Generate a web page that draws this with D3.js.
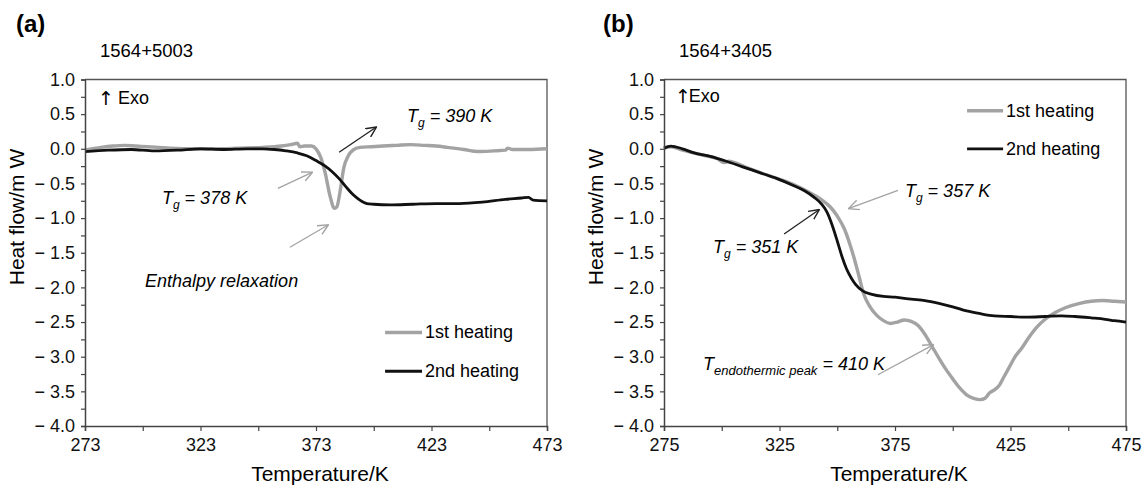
<!DOCTYPE html>
<html>
<head>
<meta charset="utf-8">
<script src="https://cdn.jsdelivr.net/npm/d3@7"></script>
<style>
  body { margin: 0; background: #fff; }
  svg { font-family: "Liberation Sans", Arial, sans-serif; }
</style>
</head>
<body>
<svg width="1146" height="486"></svg>
<script>
// panel (a) 1564+5003, [temperature K, heat flow mW]
var firstHeatingA = [
    [273, -0.02], [280, 0.02], [285, 0.04], [290, 0.05], [295, 0.04], [300, 0.03], [305, 0.02],
    [310, 0.01], [320, 0.0], [330, 0.0], [340, 0.01], [350, 0.02], [358, 0.04], [362, 0.06],
    [365, 0.08], [366, 0.03], [368, 0.04], [371, 0.04], [373, 0.0], [375, -0.12], [377, -0.35],
    [379, -0.67], [381, -0.86], [382, -0.84], [383.5, -0.6], [385, -0.28], [387, -0.1], [389, -0.02],
    [392, 0.02], [397, 0.03], [402, 0.04], [408, 0.05], [414, 0.06], [420, 0.05], [425, 0.04],
    [430, 0.02], [437, -0.01], [443, -0.04], [450, -0.03], [455, -0.02], [456, 0.01], [458, -0.01],
    [465, -0.01], [473, 0.0]
];
var secondHeatingA = [
    [273, -0.04], [283, -0.02], [293, -0.01], [303, -0.03], [313, -0.02], [323, 0.0], [333, -0.01],
    [343, 0.0], [350, 0.0], [355, -0.01], [360, -0.03], [365, -0.06], [369, -0.1], [373, -0.17],
    [377, -0.25], [380, -0.33], [383, -0.43], [386, -0.55], [389, -0.66], [392, -0.74], [395, -0.79],
    [398, -0.8], [405, -0.81], [415, -0.8], [425, -0.79], [435, -0.79], [445, -0.77], [455, -0.73],
    [462, -0.71], [465, -0.7], [467, -0.74], [473, -0.75]
];
// panel (b) 1564+3405
var firstHeatingB = [
    [275, 0.01], [278, 0.03], [283, -0.02], [288, -0.06], [293, -0.1], [298, -0.14], [301, -0.2],
    [303, -0.18], [310, -0.26], [318, -0.36], [325, -0.44], [332, -0.53], [338, -0.63], [343, -0.73],
    [347, -0.84], [350, -0.97], [353, -1.15], [355.5, -1.38], [357.5, -1.6], [359.5, -1.85],
    [361.5, -2.1], [364, -2.27], [367, -2.4], [370, -2.48], [373, -2.52], [376, -2.5], [379, -2.47],
    [382, -2.49], [385, -2.55], [388, -2.68], [391, -2.85], [394, -3.02], [397, -3.18], [400, -3.32],
    [403, -3.45], [406, -3.55], [409, -3.6], [412, -3.62], [414, -3.6], [416, -3.52], [418, -3.48],
    [420, -3.42], [422, -3.3], [424.5, -3.15], [427, -3.0], [430, -2.87], [433, -2.72], [436.5, -2.57],
    [440, -2.46], [444, -2.37], [449, -2.29], [455, -2.23], [460, -2.2], [465, -2.19], [470, -2.2],
    [475, -2.21]
];
var secondHeatingB = [
    [275, 0.01], [278, 0.04], [283, 0.0], [288, -0.06], [295, -0.11], [302, -0.18], [309, -0.26],
    [317, -0.35], [324, -0.43], [331, -0.53], [336, -0.61], [340, -0.7], [343, -0.79], [345.5, -0.91],
    [348, -1.12], [350, -1.33], [352, -1.55], [354, -1.73], [356, -1.86], [358, -1.96], [361, -2.05],
    [365, -2.1], [370, -2.13], [375, -2.14], [382, -2.17], [388, -2.19], [394, -2.23], [400, -2.28],
    [406, -2.34], [412, -2.38], [418, -2.41], [425, -2.42], [432, -2.43], [440, -2.42], [447, -2.41],
    [453, -2.42], [460, -2.44], [466, -2.46], [470, -2.48], [475, -2.5]
];

var yTicks = [1.0, 0.75, 0.5, 0.25, 0.0, -0.25, -0.5, -0.75, -1.0, -1.25, -1.5, -1.75, -2.0, -2.25,
    -2.5, -2.75, -3.0, -3.25, -3.5, -3.75, -4.0];
var xTicksA = [273, 298, 323, 348, 373, 398, 423, 448, 473];
var xTicksB = [275, 300, 325, 350, 375, 400, 425, 450, 475];

var svg = d3.select('svg');

var defs = svg.append("defs");
[['arrGray', '#a3a3a3'], ['arrBlack', '#222']].forEach(m => {
    defs.append("marker")
        .attr("id", m[0])
        .attr("viewBox", "0 0 10 10")
        .attr("refX", 9).attr("refY", 5)
        .attr("markerWidth", 11).attr("markerHeight", 11)
        .attr("markerUnits", "userSpaceOnUse")
        .attr("orient", "auto")
        .append("path")
        .attr("d", "M0,0.5 L9.5,5 L0,9.5")
        .attr("fill", "none")
        .attr("stroke", m[1])
        .attr("stroke-width", 1.3);
});

function fmtY(d) {
    if (Math.abs(d * 2 - Math.round(d * 2)) > 1e-6) return "";
    return d < 0 ? "\u2212 " + (-d).toFixed(1) : d.toFixed(1);
}

function drawPanel(p) {
    var x = d3.scaleLinear().domain(p.xDomain).range([p.left, p.right]);
    var y = d3.scaleLinear().domain([-4, 1]).range([426, 79.5]);
    var g = svg.append("g");

    // frame top + right
    g.append("path")
        .attr("d", `M${p.left},${y(1)}H${p.right}V${y(-4)}`)
        .attr("fill", "none").attr("stroke", "#555").attr("stroke-width", 1.3);

    var line = d3.line().x(d => x(d[0])).y(d => y(d[1])).curve(d3.curveMonotoneX);
    g.append("path").datum(p.first)
        .attr("d", line).attr("fill", "none")
        .attr("stroke", "#a3a3a3").attr("stroke-width", 3.4).attr("stroke-linejoin", "round");
    g.append("path").datum(p.second)
        .attr("d", line).attr("fill", "none")
        .attr("stroke", "#111").attr("stroke-width", 2.8).attr("stroke-linejoin", "round");

    // Add the Y Axis
    var yAxis = d3.axisLeft(y).tickValues(yTicks).tickSize(4).tickPadding(6).tickFormat(fmtY);
    var ya = g.append("g").attr("transform", `translate(${p.left},0)`).call(yAxis);
    // Add the X Axis
    var xAxis = d3.axisBottom(x).tickValues(p.xTicks).tickSize(5).tickPadding(7)
        .tickFormat((d, i) => i % 2 ? "" : d);
    var xa = g.append("g").attr("transform", `translate(0,${y(-4)})`).call(xAxis);
    [ya, xa].forEach(a => {
        a.select(".domain").attr("stroke", "#444").attr("stroke-width", 1.5);
        a.selectAll(".tick line").attr("stroke", "#444").attr("stroke-width", 1.2);
        a.selectAll(".tick text").attr("fill", "#111")
            .style("font-family", "'Liberation Sans', Arial, sans-serif");
    });
    ya.selectAll(".tick text").style("font-size", "18px");
    xa.selectAll(".tick text").style("font-size", "18px");

    svg.append("text").attr("x", p.tagX).attr("y", 32)
        .style("font-size", "24px").style("font-weight", "bold").text(p.tag);
    svg.append("text").attr("x", p.left + 15).attr("y", 57)
        .style("font-size", "18.5px").text(p.sample);
    svg.append("text").attr("x", (p.left + p.right) / 2 + 4).attr("y", 481)
        .attr("text-anchor", "middle").style("font-size", "21px").text("Temperature/K");
    svg.append("text")
        .attr("transform", `translate(${p.left - 61},217) rotate(-90)`)
        .attr("text-anchor", "middle").style("font-size", "21px").text("Heat flow/m W");

    // legend
    [[p.first, '#a3a3a3', 3.4, '1st heating', p.legY[0]], [p.second, '#111', 2.8, '2nd heating', p.legY[1]]]
        .forEach(l => {
            g.append("line")
                .attr("x1", x(p.legX[0])).attr("x2", x(p.legX[1]))
                .attr("y1", y(l[4])).attr("y2", y(l[4]))
                .attr("stroke", l[1]).attr("stroke-width", l[2]);
            g.append("text").attr("x", x(p.legX[1]) + 3).attr("y", y(l[4]) + 6)
                .style("font-size", "18px").text(l[3]);
        });

    // exo marker
    var ex = g.append("text").attr("x", x(p.exo[0])).attr("y", y(p.exo[1])).style("font-size", "18px");
    ex.append("tspan").style("font-family", "'DejaVu Sans'").style("font-size", "19px")
        .attr("dx", -2).attr("dy", 1).text("\u2191");
    ex.append("tspan").attr("dx", p.exoGap).attr("dy", -1).text("Exo");

    p.arrows.forEach(a => {
        g.append("line")
            .attr("x1", x(a[0])).attr("y1", y(a[1])).attr("x2", x(a[2])).attr("y2", y(a[3]))
            .attr("stroke", a[4] == 'g' ? '#a3a3a3' : '#222').attr("stroke-width", 1.3)
            .attr("marker-end", a[4] == 'g' ? 'url(#arrGray)' : 'url(#arrBlack)');
    });

    p.labels.forEach(l => {
        var t = g.append("text").attr("x", x(l[0])).attr("y", y(l[1]))
            .style("font-size", "18px").style("font-style", "italic");
        if (l[3]) {
            t.append("tspan").text("T");
            t.append("tspan").attr("dy", 5).style("font-size", l[4] || "12px").text(l[3]);
            t.append("tspan").attr("dy", -5).text(l[2]);
        } else {
            t.text(l[2]);
        }
    });
}

drawPanel({
    tag: "(a)", tagX: 16, sample: "1564+5003",
    left: 85, right: 547, xDomain: [273, 473], xTicks: xTicksA,
    first: firstHeatingA, second: secondHeatingA,
    legX: [402.9, 418.9], legY: [-2.65, -3.21],
    exo: [279.5, 0.64], exoGap: 4,
    arrows: [
        [356.5, -0.57, 371.3, -0.34, 'g'],
        [361.7, -1.42, 378.2, -1.10, 'g'],
        [383.0, -0.05, 399.0, 0.31, 'b']
    ],
    labels: [
        [306.3, -0.80, " = 378 K", "g"],
        [412.4, 0.38, " = 390 K", "g"],
        [299, -2.0, "Enthalpy relaxation"]
    ]
});

drawPanel({
    tag: "(b)", tagX: 603, sample: "1564+3405",
    left: 664, right: 1126, xDomain: [275, 475], xTicks: xTicksB,
    first: firstHeatingB, second: secondHeatingB,
    legX: [406.2, 421.8], legY: [0.55, 0.0],
    exo: [280.6, 0.67], exoGap: -2,
    arrows: [
        [376.3, -0.6, 355.1, -0.86, 'g'],
        [327, -1.23, 342.1, -0.88, 'b'],
        [367.6, -3.26, 391.5, -2.83, 'g']
    ],
    labels: [
        [379.3, -0.69, " = 357 K", "g"],
        [296.2, -1.5, " = 351 K", "g"],
        [291.9, -3.19, " = 410 K", "endothermic peak", "13px"]
    ]
});
</script>
</body>
</html>
